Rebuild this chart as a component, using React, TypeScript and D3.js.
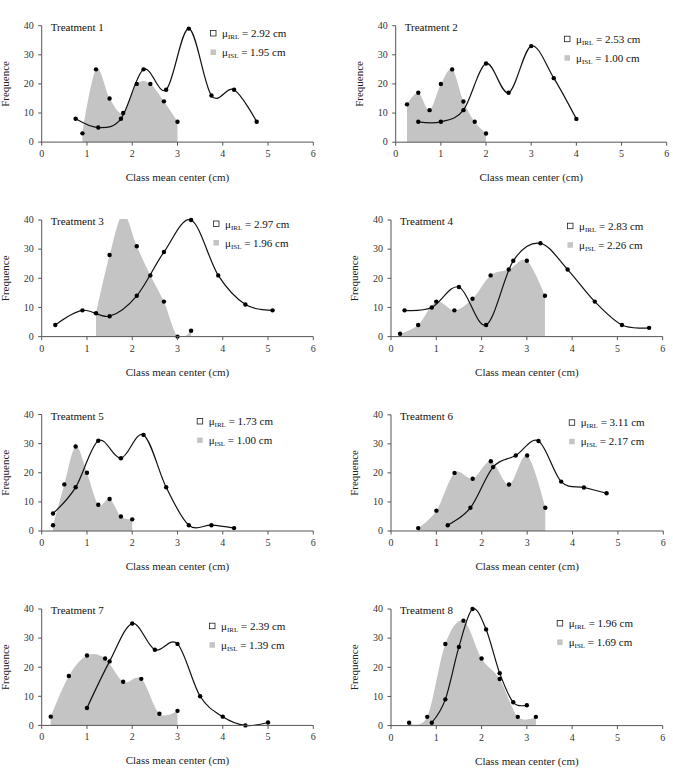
import React from "react";
import * as d3 from "d3";

const TITLES = ["Treatment 1", "Treatment 2", "Treatment 3", "Treatment 4", "Treatment 5", "Treatment 6", "Treatment 7", "Treatment 8"];
const MU_IRL = ["2.92", "2.53", "2.97", "2.83", "1.73", "3.11", "2.39", "1.96"];
const MU_ISL = ["1.95", "1.00", "1.96", "2.26", "1.00", "2.17", "1.39", "1.69"];

const IRL_X = [
  [0.75, 1.25, 1.75, 2.25, 2.75, 3.25, 3.75, 4.25, 4.75],
  [0.5, 1, 1.5, 2, 2.5, 3, 3.5, 4],
  [0.3, 0.9, 1.5, 2.1, 2.7, 3.3, 3.9, 4.5, 5.1],
  [0.3, 0.9, 1.5, 2.1, 2.7, 3.3, 3.9, 4.5, 5.1, 5.7],
  [0.25, 0.75, 1.25, 1.75, 2.25, 2.75, 3.25, 3.75, 4.25],
  [1.25, 1.75, 2.25, 2.75, 3.25, 3.75, 4.25, 4.75],
  [1, 1.5, 2, 2.5, 3, 3.5, 4, 4.5, 5],
  [0.9, 1.2, 1.5, 1.8, 2.1, 2.4, 2.7, 3.0],
];
const IRL_Y = [
  [8, 5, 8, 25, 18, 39, 16, 18, 7],
  [7, 7, 11, 27, 17, 33, 22, 8],
  [4, 9, 7, 14, 29, 40, 21, 11, 9],
  [9, 10, 17, 4, 26, 32, 23, 12, 4, 3],
  [6, 15, 31, 25, 33, 15, 2, 2, 1],
  [2, 8, 22, 26, 31, 17, 15, 13],
  [6, 22, 35, 26, 28, 10, 3, 0, 1],
  [1, 9, 27, 40, 33, 18, 8, 7],
];
const ISL_X = [
  [0.9, 1.2, 1.5, 1.8, 2.1, 2.4, 2.7, 3.0],
  [0.25, 0.5, 0.75, 1, 1.25, 1.5, 1.75, 2],
  [1.2, 1.5, 1.8, 2.1, 2.4, 2.7, 3.0, 3.3],
  [0.2, 0.6, 1.0, 1.4, 1.8, 2.2, 2.6, 3.0, 3.4],
  [0.25, 0.5, 0.75, 1, 1.25, 1.5, 1.75, 2],
  [0.6, 1.0, 1.4, 1.8, 2.2, 2.6, 3.0, 3.4],
  [0.2, 0.6, 1.0, 1.4, 1.8, 2.2, 2.6, 3.0],
  [0.4, 0.8, 1.2, 1.6, 2.0, 2.4, 2.8, 3.2],
];
const ISL_Y = [
  [3, 25, 15, 10, 20, 20, 14, 7],
  [13, 17, 11, 20, 25, 14, 7, 3],
  [8, 28, 42, 31, 21, 12, 0, 2],
  [1, 4, 12, 9, 13, 21, 23, 26, 14],
  [2, 16, 29, 20, 9, 11, 5, 4],
  [1, 7, 20, 18, 24, 16, 26, 8],
  [3, 17, 24, 23, 15, 16, 4, 5],
  [1, 3, 28, 36, 23, 16, 3, 3],
];

const X_TICKS = [0, 1, 2, 3, 4, 5, 6];
const Y_TICKS = [0, 10, 20, 30, 40];
const X_LABEL = "Class mean center (cm)";
const Y_LABEL = "Frequence";

// layout (pixel positions of each panel's plot area and legend offsets)
const LAYOUT = [
  { left: 41.7, top: 25.7, width: 271.6, height: 116.4, legX: 168.3, legY: 4.3 },
  { left: 395.7, top: 25.7, width: 271, height: 116.5, legX: 168.3, legY: 10 },
  { left: 41.7, top: 220, width: 271.6, height: 116.6, legX: 171.3, legY: 0.5 },
  { left: 391, top: 220, width: 271.7, height: 116.6, legX: 176, legY: 2.7 },
  { left: 41.7, top: 414.5, width: 271.6, height: 116.5, legX: 155, legY: 3.5 },
  { left: 391, top: 414.8, width: 272.3, height: 116.2, legX: 177.7, legY: 4.5 },
  { left: 41.7, top: 609, width: 271.6, height: 116.4, legX: 167.3, legY: 13.7 },
  { left: 391, top: 609, width: 271.7, height: 116.6, legX: 165.7, legY: 11 },
];

const FONT = "'Liberation Serif', 'DejaVu Serif', serif";
const AXIS = "#555";
const FILL = "#c4c4c4";

function Panel({ i }: { i: number }) {
  const L = LAYOUT[i];
  const x = d3.scaleLinear().domain([0, 6]).range([0, L.width]);
  const y = d3.scaleLinear().domain([0, 40]).range([L.height, 0]);
  const irl = IRL_X[i].map((v, k) => [v, IRL_Y[i][k]] as [number, number]);
  const isl = ISL_X[i].map((v, k) => [v, ISL_Y[i][k]] as [number, number]);
  const curve = d3.curveCardinal.tension(0);
  const line = d3
    .line<[number, number]>()
    .x((d) => x(d[0]))
    .y((d) => y(d[1]))
    .curve(curve);
  const area = d3
    .area<[number, number]>()
    .x((d) => x(d[0]))
    .y0(y(0))
    .y1((d) => y(d[1]))
    .curve(curve);
  const clipId = `clip${i}`;
  const dots = [...isl, ...irl].filter((d) => d[1] <= 40);
  const lx = L.legX;
  const ly = L.legY;
  const legendRow = (yy: number, sub: string, val: string, filled: boolean) => (
    <g transform={`translate(${lx},${yy})`}>
      <rect
        x={0.5}
        y={0.5}
        width={5.5}
        height={5.5}
        fill={filled ? FILL : "white"}
        stroke={filled ? "none" : "#222"}
        strokeWidth={0.8}
      />
      <text x={12} y={7} fontFamily={FONT} fontSize={11} fill="#111">
        μ
        <tspan fontSize={7} dy={2}>{sub}</tspan>
        <tspan dy={-2}>{` = ${val} cm`}</tspan>
      </text>
    </g>
  );
  return (
    <g transform={`translate(${L.left},${L.top})`}>
      <defs>
        <clipPath id={clipId}>
          <rect x={0} y={-1} width={L.width} height={L.height + 1} />
        </clipPath>
      </defs>
      <path d={area(isl) || ""} fill={FILL} clipPath={`url(#${clipId})`} />
      <path d={line(irl) || ""} fill="none" stroke="#111" strokeWidth={1.2} />
      {dots.map((d, k) => (
        <circle key={k} cx={x(d[0])} cy={y(d[1])} r={2.2} fill="#000" />
      ))}
      {/* axes */}
      <line x1={0} x2={0} y1={0} y2={L.height} stroke={AXIS} strokeWidth={1} />
      <line x1={0} x2={L.width} y1={L.height} y2={L.height} stroke={AXIS} strokeWidth={1} />
      {Y_TICKS.map((t) => (
        <g key={t}>
          <line x1={-3.5} x2={0} y1={y(t)} y2={y(t)} stroke={AXIS} />
          <text
            x={-8}
            y={y(t)}
            dy="0.33em"
            textAnchor="end"
            fontFamily={FONT}
            fontSize={10}
            fill="#333"
          >
            {t}
          </text>
        </g>
      ))}
      {X_TICKS.map((t) => (
        <g key={t}>
          <line x1={x(t)} x2={x(t)} y1={L.height} y2={L.height + 3.5} stroke={AXIS} />
          <text
            x={x(t)}
            y={L.height + 15}
            textAnchor="middle"
            fontFamily={FONT}
            fontSize={10}
            fill="#333"
          >
            {t}
          </text>
        </g>
      ))}
      <text
        x={L.width / 2}
        y={L.height + 39}
        textAnchor="middle"
        fontFamily={FONT}
        fontSize={11}
        fill="#222"
      >
        {X_LABEL}
      </text>
      <text
        transform={`translate(${-33},${L.height / 2}) rotate(-90)`}
        textAnchor="middle"
        fontFamily={FONT}
        fontSize={11}
        fill="#222"
      >
        {Y_LABEL}
      </text>
      <text x={9} y={5} fontFamily={FONT} fontSize={11} fill="#111">
        {TITLES[i]}
      </text>
      {legendRow(ly, "IRL", MU_IRL[i], false)}
      {legendRow(ly + 19, "ISL", MU_ISL[i], true)}
    </g>
  );
}

export default function App() {
  return (
    <svg
      width={673}
      height={778}
      style={{ position: "absolute", left: 0, top: 0, background: "white" }}
    >
      <rect width={673} height={778} fill="white" />
      {TITLES.map((_, i) => (
        <Panel key={i} i={i} />
      ))}
    </svg>
  );
}
